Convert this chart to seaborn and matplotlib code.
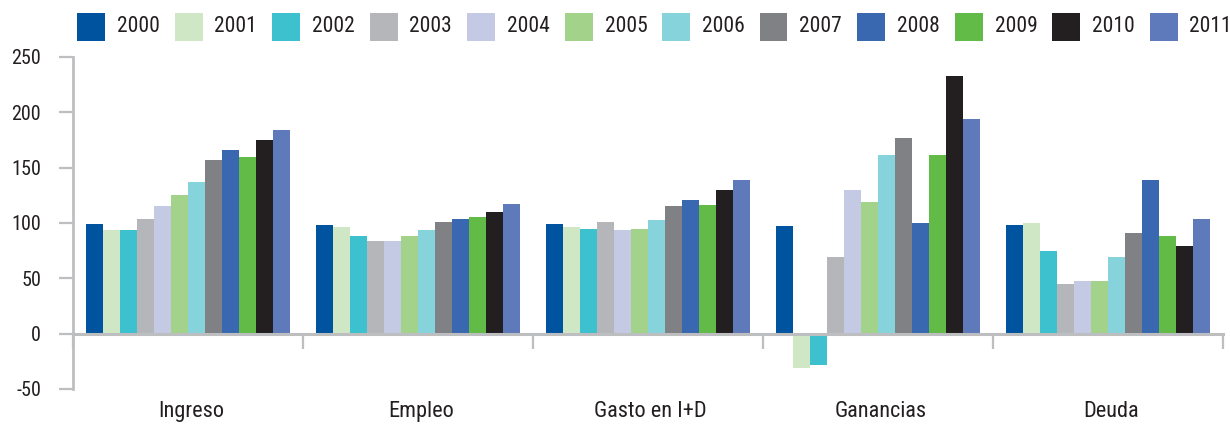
import numpy as np
import pandas as pd
import matplotlib
matplotlib.use("Agg")
import matplotlib.pyplot as plt
import matplotlib.patches as mpatches
from matplotlib import font_manager
import seaborn as sns

categories = ["Ingreso", "Empleo", "Gasto en I+D", "Ganancias", "Deuda"]
years = ["2000", "2001", "2002", "2003", "2004", "2005",
         "2006", "2007", "2008", "2009", "2010", "2011"]
ingreso = [99, 93.5, 93.5, 104, 115, 125, 137.5, 156.5, 166, 160, 175, 184]
empleo = [98, 96, 88, 84, 84, 88, 94, 100.5, 104, 105, 110, 117]
gasto = [99, 96, 95, 100.5, 93.5, 94.5, 102.5, 115, 120.5, 116, 129.5, 138.5]
ganancias = [97, -31, -28, 69, 130, 119, 161, 177, 100, 161, 233, 194]
deuda = [98, 100, 75, 44.5, 47.5, 47.5, 69, 91, 138.5, 88, 79, 104]
yticks = [-50, 0, 50, 100, 150, 200, 250]

colors = ["#00549f", "#d0e7c5", "#3dc1ce", "#b5b6b9", "#c5cae4", "#a3d28b",
          "#86d3dc", "#808184", "#3968b0", "#61bb46", "#231f20", "#5f7aba"]

series = [ingreso, empleo, gasto, ganancias, deuda]
rows = []
for cat, vals in zip(categories, series):
    for yr, v in zip(years, vals):
        rows.append({"cat": cat, "year": yr, "val": v})
df = pd.DataFrame(rows)

sns.set_theme(style="white")

# pick a condensed / narrow font if one is installed
chosen = None
cands = []
for fe in font_manager.fontManager.ttflist:
    nm = fe.name.lower()
    st = str(fe.stretch).lower()
    if fe.style != "normal":
        continue
    w = fe.weight if isinstance(fe.weight, int) else 400
    if w not in (400, "normal", "regular"):
        continue
    if "narrow" in nm or "condensed" in nm or "condensed" in st:
        if "extra" in st or "ultra" in st or "extra" in nm or "ultra" in nm:
            continue
        cands.append(fe)
pref = ["liberation sans narrow", "roboto condensed", "open sans condensed", "noto sans"]
for p in pref:
    for fe in cands:
        if fe.name.lower().startswith(p):
            chosen = fe
            break
    if chosen:
        break
if chosen is None and cands:
    chosen = cands[0]

if chosen is not None:
    plt.rcParams["font.family"] = [chosen.name, "DejaVu Sans"]
    plt.rcParams["font.stretch"] = chosen.stretch
    fs_scale = 1.0
else:
    plt.rcParams["font.family"] = ["Roboto", "DejaVu Sans"]
    fs_scale = 0.85

txt = "#231f20"
gray = "#bcbec0"

W, H = 1230, 424
fig = plt.figure(figsize=(W / 100, H / 100), dpi=100)
left, right, top, bot = 73, 1223, 57, 389
ax = fig.add_axes([left / W, 1 - bot / H, (right - left) / W, (bot - top) / H])

sns.barplot(data=df, x="cat", y="val", hue="year", hue_order=years,
            order=categories, palette=colors, width=0.89, linewidth=0,
            saturation=1, ax=ax, legend=False, errorbar=None)

ax.set_xlim(-0.5, len(categories) - 0.5)
ax.set_ylim(-50, 250)
ax.set_yticks(yticks)
ax.set_yticklabels([str(t) for t in yticks], fontsize=14.5 * fs_scale, color=txt)
ax.tick_params(axis="y", direction="out", length=10, width=1.6, color=gray, pad=13, left=True)

bounds = np.arange(-0.5, len(categories), 1.0)
ax.set_xticks(bounds)
ax.set_xticklabels([""] * len(bounds))
ax.tick_params(axis="x", direction="out", length=11, width=1.6, color=gray, bottom=True)

for s in ["top", "right"]:
    ax.spines[s].set_visible(False)
ax.spines["left"].set_color(gray)
ax.spines["left"].set_linewidth(2)
ax.spines["bottom"].set_color(gray)
ax.spines["bottom"].set_linewidth(2.2)
ax.spines["bottom"].set_position(("data", 0))
ax.set_xlabel("")
ax.set_ylabel("")

for i, c in enumerate(categories):
    ax.text(i + 0.012, -70.5, c, ha="center", va="center", fontsize=16 * fs_scale,
            color=txt, clip_on=False)

# legend row across the top
x0, step, sq = 77, 97.5, 28
yc = 27
for i, (col, yr) in enumerate(zip(colors, years)):
    xs = x0 + step * i
    fig.patches.append(mpatches.Rectangle((xs / W, 1 - (yc + sq / 2) / H), sq / W, sq / H,
                                          transform=fig.transFigure, facecolor=col,
                                          edgecolor="none"))
    fig.text((xs + sq + 12) / W, 1 - yc / H, yr, ha="left", va="center",
             fontsize=15.5 * fs_scale, color=txt)

fig.savefig("out.png", dpi=100)
